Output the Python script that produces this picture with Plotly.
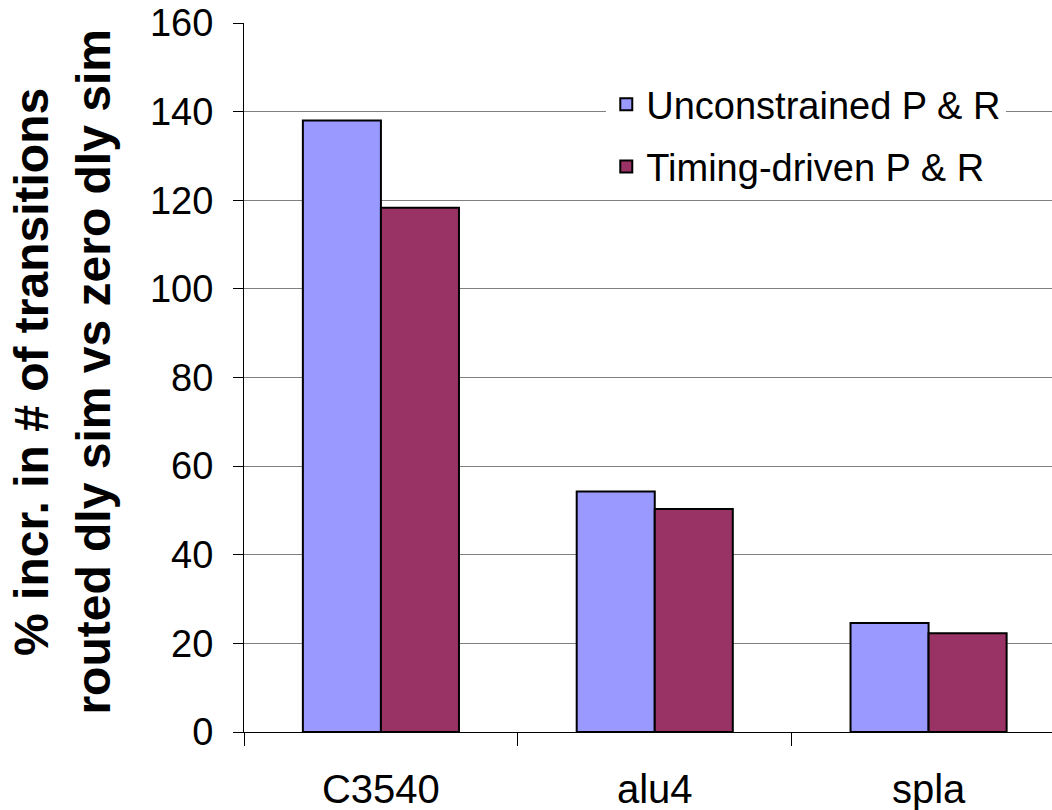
import plotly.graph_objects as go

categories = ["C3540", "alu4", "spla"]
unconstrained = [138.0, 54.3, 24.6]
timing_driven = [118.3, 50.3, 22.3]
series_names = ["Unconstrained P & R", "Timing-driven P & R"]
y_ticks = [0, 20, 40, 60, 80, 100, 120, 140, 160]
y_title_lines = ["% incr. in # of transitions", "routed dly sim vs zero dly sim"]

FONT = "Liberation Sans, Arial, sans-serif"

fig = go.Figure()
fig.add_trace(go.Bar(
    x=categories, y=unconstrained, name=series_names[0],
    marker=dict(color="#9999FF", line=dict(color="black", width=2)),
    legendgroup="a",
))
fig.add_trace(go.Bar(
    x=categories, y=timing_driven, name=series_names[1],
    marker=dict(color="#993366", line=dict(color="black", width=2)),
    legendgroup="b",
))

W, H = 1052, 810
L, T, B = 243.5, 23, 78
plot_w = W - L
plot_h = H - T - B

fig.update_layout(
    width=W, height=H,
    margin=dict(l=L, r=0, t=T, b=B, pad=0),
    paper_bgcolor="white", plot_bgcolor="white",
    barmode="group", bargap=0.43, bargroupgap=0,
    font=dict(family=FONT, color="black"),
    showlegend=True,
    legend=dict(
        x=(606 - L) / plot_w, y=(H - B - 73) / plot_h,
        xanchor="left", yanchor="top",
        bgcolor="white", borderwidth=0,
        font=dict(size=38, family=FONT, color="black"),
        tracegroupgap=10, itemwidth=30,
    ),
    xaxis=dict(
        range=[-0.5, -0.5 + plot_w / 274.0],
        showline=True, linecolor="black", linewidth=1,
        ticks="outside", tickson="boundaries", ticklen=13, tickcolor="black",
        tickfont=dict(size=40, family=FONT, color="black"),
        ticklabelstandoff=22,
        showgrid=False,
    ),
    yaxis=dict(
        range=[0, 160], tickvals=y_ticks,
        showline=True, linecolor="black", linewidth=1,
        ticks="outside", ticklen=10, tickcolor="black",
        tickfont=dict(size=38, family=FONT, color="black"),
        ticklabelstandoff=12,
        showgrid=True, gridcolor="#808080", gridwidth=1,
        zeroline=False,
    ),
    annotations=[dict(
        text="<br>".join(y_title_lines),
        textangle=-90, xref="paper", yref="paper",
        x=(61 - L) / plot_w, y=(H - B - 372) / plot_h,
        xanchor="center", yanchor="middle",
        showarrow=False,
        font=dict(size=48, family=FONT, color="black", weight="bold"),
    )],
)

fig.write_html("out.html")
